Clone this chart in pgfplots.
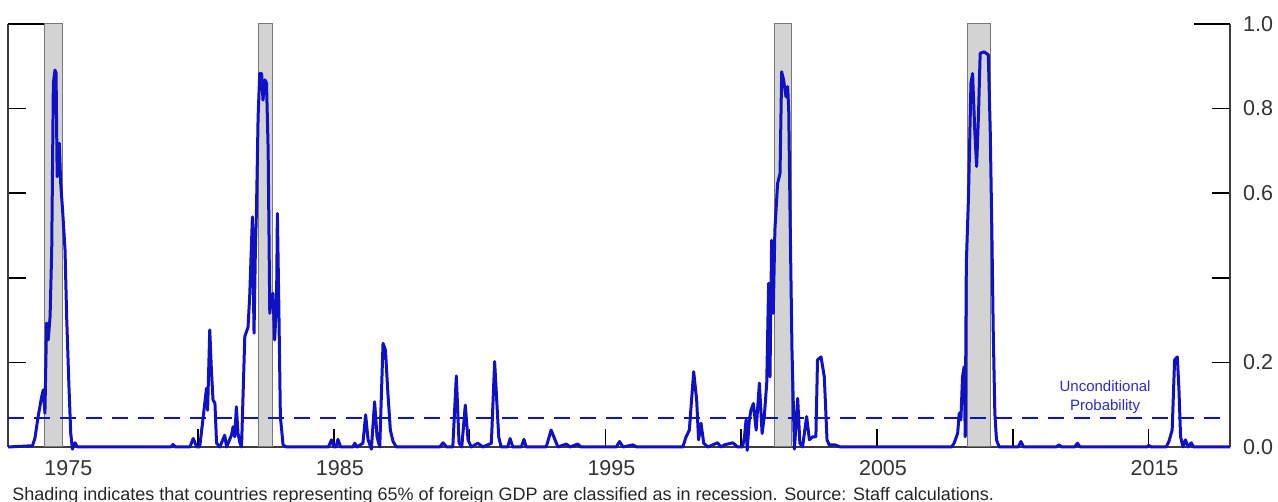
\documentclass[border=0pt]{standalone}
\usepackage{fontspec}
\setmainfont{Liberation Sans}
\usepackage{pgfplots}
\pgfplotsset{compat=1.18}
\definecolor{probblue}{RGB}{16,16,196}
\definecolor{lblblue}{RGB}{45,45,190}
\definecolor{recfill}{RGB}{211,211,211}
\definecolor{recedge}{RGB}{120,120,120}
\definecolor{axgray}{RGB}{60,60,60}
\begin{document}
\begin{tikzpicture}
\useasboundingbox (-4pt,-27.5pt) rectangle (635pt,223.5pt);
\pgfplotsset{
  every non boxed x axis/.style={},
  every non boxed y axis/.style={},
  common/.style={
    width=611pt, height=211.5pt, scale only axis,
    xmin=1973, xmax=2018, ymin=0, ymax=1,
    enlargelimits=false,
    axis line style={-, draw=axgray, line width=0.8pt},
    x axis line style={-}, y axis line style={-},
    tick style={draw=black, line width=0.75pt},
    tick align=inside,
    major tick length=9pt,
    ticklabel style={font=\fontsize{10.75}{13}\selectfont, text=black!80},
  }
}
% left axis (ticks only)
\begin{axis}[common,
  axis x line=none, axis y line=left,
  ytick={0.2,0.4,0.6,0.8}, yticklabels={},
  extra y ticks={1}, extra y tick labels={},
  extra y tick style={major tick length=18.5pt},
]
\end{axis}
% main axis
\begin{axis}[common,
  axis x line=bottom, axis y line=right,
  clip=false,
  xtick={1975,1980,1985,1990,1995,2000,2005,2010,2015},
  xticklabels={1975,,1985,,1995,,2005,,2015},
  xticklabel style={xshift=3pt, yshift=-3pt},
  ytick={0,0.2,0.4,0.6,0.8},
  yticklabels={0.0,0.2,,0.6,0.8},
  yticklabel style={xshift=3pt},
  extra y ticks={1}, extra y tick labels={1.0},
  extra y tick style={major tick length=18pt},
]
% recession shading
\addplot [fill=recfill, draw=recedge, line width=0.5pt] coordinates {(1974.36,0) (1974.36,1) (1975.02,1) (1975.02,0)} -- cycle;
\addplot [fill=recfill, draw=recedge, line width=0.5pt] coordinates {(1982.23,0) (1982.23,1) (1982.75,1) (1982.75,0)} -- cycle;
\addplot [fill=recfill, draw=recedge, line width=0.5pt] coordinates {(2001.22,0) (2001.22,1) (2001.84,1) (2001.84,0)} -- cycle;
\addplot [fill=recfill, draw=recedge, line width=0.5pt] coordinates {(2008.32,0) (2008.32,1) (2009.17,1) (2009.17,0)} -- cycle;
% unconditional probability
\addplot [probblue, line width=0.75pt, dash pattern=on 8pt off 5pt] coordinates {(1973,0.068) (2018,0.068)};
\node [text=lblblue, align=center, font=\fontsize{7.5}{9.5}\selectfont] at (axis cs:2013.4,0.117) {Unconditional\\Probability};
% probability series
\addplot [probblue, line width=1.5pt, line join=round] coordinates {
(1973.00,0.0) (1973.90,0.003) (1973.99,0.02) (1974.11,0.072) (1974.24,0.119)
(1974.30,0.135) (1974.36,0.08) (1974.42,0.293) (1974.48,0.253) (1974.55,0.308)
(1974.61,0.466) (1974.67,0.86) (1974.73,0.891) (1974.77,0.884) (1974.81,0.639)
(1974.89,0.718) (1974.94,0.624) (1975.01,0.56) (1975.10,0.466) (1975.16,0.308)
(1975.24,0.151) (1975.31,0.033) (1975.37,-0.005) (1975.47,0.01) (1975.55,0.0)
(1979.00,0.0) (1979.08,0.006) (1979.16,0.0) (1979.70,0.0) (1979.82,0.02)
(1979.95,0.0) (1980.06,0.0) (1980.19,0.072) (1980.31,0.139) (1980.35,0.087)
(1980.43,0.277) (1980.49,0.182) (1980.55,0.111) (1980.62,0.104) (1980.68,0.009)
(1980.80,0.0) (1980.98,0.028) (1981.05,0.0) (1981.23,0.028) (1981.29,0.048)
(1981.35,0.024) (1981.41,0.095) (1981.47,0.032) (1981.54,0.01) (1981.60,0.0)
(1981.72,0.261) (1981.84,0.284) (1981.90,0.355) (1982.00,0.544) (1982.06,0.269)
(1982.11,0.466) (1982.15,0.56) (1982.21,0.781) (1982.27,0.883) (1982.34,0.883)
(1982.39,0.82) (1982.46,0.868) (1982.52,0.86) (1982.58,0.702) (1982.64,0.316)
(1982.70,0.355) (1982.76,0.363) (1982.82,0.253) (1982.89,0.348) (1982.92,0.552)
(1982.97,0.348) (1983.03,0.072) (1983.13,0.005) (1983.25,0.0)
(1984.80,0.0) (1984.91,0.017) (1985.00,0.0) (1985.08,0.0) (1985.15,0.018)
(1985.25,0.0) (1985.70,0.0) (1985.77,0.009) (1985.85,0.0) (1986.07,0.009)
(1986.17,0.076) (1986.26,0.017) (1986.38,-0.005) (1986.50,0.107) (1986.59,0.024)
(1986.69,0.0) (1986.81,0.245) (1986.90,0.229) (1986.99,0.127) (1987.08,0.04)
(1987.18,0.013) (1987.30,0.0)
(1988.90,0.0) (1989.02,0.01) (1989.15,0.0) (1989.38,0.0) (1989.51,0.168)
(1989.61,0.009) (1989.71,0.0) (1989.84,0.099) (1989.94,0.017) (1990.06,0.0)
(1990.30,0.009) (1990.49,0.0) (1990.80,0.009) (1990.92,0.202) (1991.07,0.024)
(1991.16,0.0) (1991.40,0.0) (1991.49,0.02) (1991.59,0.0) (1991.90,0.0)
(1992.00,0.018) (1992.08,0.0) (1992.82,0.0) (1993.00,0.04) (1993.25,0.0)
(1993.56,0.007) (1993.70,0.0) (1993.98,0.007) (1994.10,0.0)
(1995.40,0.0) (1995.52,0.013) (1995.65,0.0) (1996.01,0.005) (1996.15,0.0)
(1997.85,0.0) (1997.97,0.024) (1998.09,0.04) (1998.25,0.178) (1998.36,0.111)
(1998.43,0.017) (1998.52,0.056) (1998.62,0.009) (1998.77,0.0) (1999.13,0.01)
(1999.25,0.0) (1999.38,0.005) (1999.69,0.01) (1999.87,0.0) (2000.05,0.0)
(2000.12,0.024) (2000.18,0.064) (2000.22,-0.008) (2000.30,0.064) (2000.36,0.087)
(2000.45,0.103) (2000.55,0.04) (2000.67,0.151) (2000.77,0.032) (2000.85,0.072)
(2000.94,0.151) (2001.01,0.387) (2001.06,0.166) (2001.12,0.489) (2001.18,0.316)
(2001.24,0.513) (2001.34,0.623) (2001.43,0.647) (2001.49,0.887) (2001.56,0.868)
(2001.65,0.828) (2001.71,0.852) (2001.75,0.797) (2001.80,0.544) (2001.87,0.229)
(2001.96,-0.005) (2002.08,0.115) (2002.16,0.009) (2002.26,0.0) (2002.41,0.072)
(2002.51,0.017) (2002.63,0.024) (2002.75,0.024) (2002.81,0.206) (2002.94,0.213)
(2003.06,0.166) (2003.16,0.017) (2003.24,0.005) (2003.45,0.005) (2003.66,0.0)
(2007.75,0.0) (2007.84,0.009) (2007.97,0.032) (2008.03,0.08) (2008.09,0.064)
(2008.15,0.166) (2008.21,0.19) (2008.25,0.024) (2008.29,0.434) (2008.37,0.592)
(2008.46,0.86) (2008.52,0.883) (2008.60,0.749) (2008.67,0.663) (2008.74,0.789)
(2008.80,0.931) (2008.95,0.934) (2009.10,0.927) (2009.17,0.749) (2009.23,0.513)
(2009.28,0.277) (2009.34,0.08) (2009.40,0.017) (2009.50,0.0)
(2010.20,0.0) (2010.30,0.013) (2010.40,0.0) (2011.60,0.0) (2011.70,0.005)
(2011.80,0.0) (2012.28,0.0) (2012.38,0.009) (2012.48,0.0) (2014.95,0.0)
(2015.00,0.004) (2015.10,0.0) (2015.65,0.0) (2015.75,0.013) (2015.87,0.04)
(2015.96,0.206) (2016.06,0.213) (2016.12,0.135) (2016.18,0.024) (2016.27,0.0)
(2016.36,0.017) (2016.46,0.0) (2016.57,0.01) (2016.66,0.0) (2018.00,0.0)
};
\end{axis}
\node [anchor=base west, inner sep=0pt, text=black!85, font=\fontsize{9}{10.5}\selectfont] at (2pt,-27pt) {Shading indicates that countries representing 65\% of foreign GDP are classified as in recession. Source: Staff calculations.};
\end{tikzpicture}
\end{document}
